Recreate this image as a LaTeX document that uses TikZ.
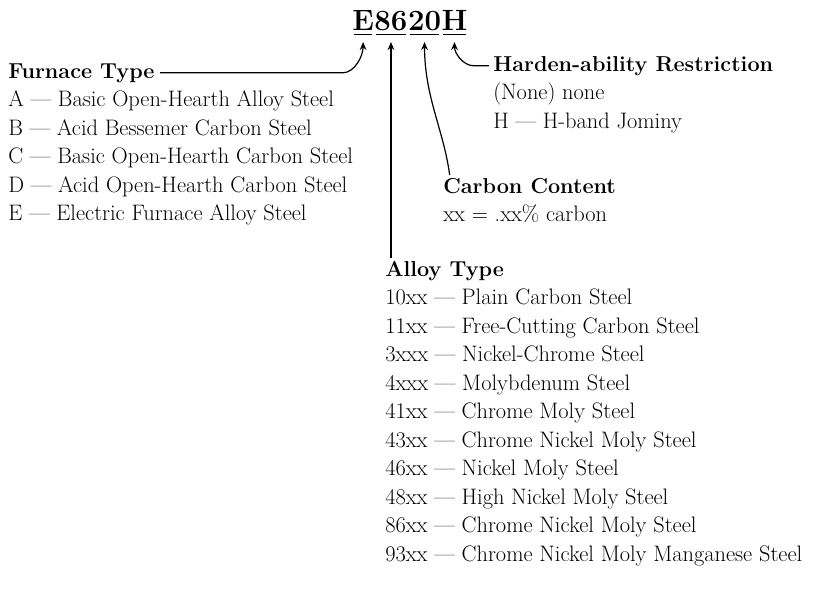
\documentclass[tikz,border=0pt]{standalone}
\usepackage{fontspec}
\usetikzlibrary{arrows.meta, positioning}

\begin{document}
\begin{tikzpicture}[
    x=0.75pt, y=-0.75pt,
    code/.style={font=\fontsize{22}{26}\selectfont\bfseries, inner sep=0pt, anchor=base west},
    head/.style={font=\fontsize{16.2}{19}\selectfont\bfseries, inner sep=0pt, anchor=base west},
    item/.style={font=\fontsize{16.8}{20}\selectfont, inner sep=0pt, anchor=base west},
    uline/.style={line width=1pt},
    pointer/.style={-{Stealth[length=6pt, width=5pt]}, line width=0.9pt}
]
\useasboundingbox (0,0) rectangle (831,594);

% designation
\node[code] (cE) at (352,30) {E};
\node[code] (c86) at (cE.base east) {86};
\node[code] (c20) at (c86.base east) {20};
\node[code] (cH) at (c20.base east) {H};
\foreach \p in {cE, c86, c20, cH}
  \draw[uline] ([xshift=1.5pt, yshift=-3.5pt]\p.base west) -- ([xshift=-1.5pt, yshift=-3.5pt]\p.base east);

% furnace type
\node[head] (furnhd) at (8,78) {Furnace Type};
\foreach \txt [count=\i] in {A — Basic Open-Hearth Alloy Steel, B — Acid Bessemer Carbon Steel, C — Basic Open-Hearth Carbon Steel, D — Acid Open-Hearth Carbon Steel, E — Electric Furnace Alloy Steel}
  \node[item] (furn\i) at (8,78+28.5*\i) {\txt};

% hardenability
\node[head] (hardhd) at (493,71) {Harden-ability Restriction};
\node[item] (hard1) at (493,99.5) {(None) none};
\node[item] (hard2) at (493,128) {H — H-band Jominy};

% carbon
\node[head] (carbhd) at (443,193) {Carbon Content};
\node[item] (carb1) at (443,221.5) {xx = .xx\% carbon};

% alloy type
\node[head] (alloyhd) at (385,276) {Alloy Type};
\foreach \txt [count=\i] in {10xx — Plain Carbon Steel, 11xx — Free-Cutting Carbon Steel, 3xxx — Nickel-Chrome Steel, 4xxx — Molybdenum Steel, 41xx — Chrome Moly Steel, 43xx — Chrome Nickel Moly Steel, 46xx — Nickel Moly Steel, 48xx — High Nickel Moly Steel, 86xx — Chrome Nickel Moly Steel, 93xx — Chrome Nickel Moly Manganese Steel}
  \node[item] (alloy\i) at (385,276+28.5*\i) {\txt};

% pointers
\coordinate (bendE) at ([xshift=-7pt]cE.base west);
\coordinate (atop) at ([yshift=2pt]alloyhd.north);
\draw[pointer] ([xshift=4pt]furnhd.east) -- (bendE |- furnhd.east) .. controls +(12,0) and +(0,14) .. ([yshift=-9pt]cE.base);
\draw[pointer] (atop -| c86.base) -- ([yshift=-9pt]c86.base);
\draw[pointer] ([xshift=5pt, yshift=2pt]carbhd.north west) .. controls +(-6,-45) and +(0,55) .. ([yshift=-9pt]c20.base);
\draw[pointer] ([xshift=-3pt]hardhd.west) -- ++(-16,0) .. controls +(-9,0) and +(0,12) .. ([yshift=-9pt]cH.base);
\end{tikzpicture}
\end{document}
